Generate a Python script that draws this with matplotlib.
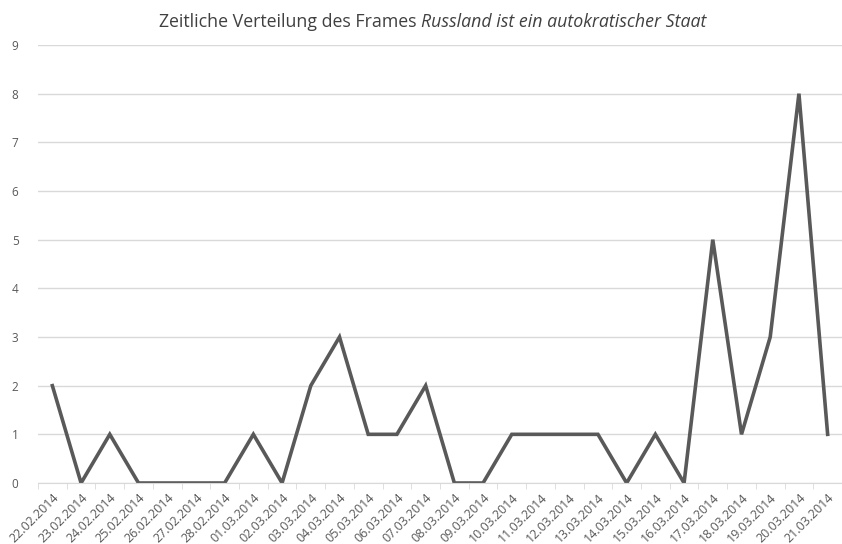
import matplotlib.pyplot as plt
import numpy as np

# Daten
daten = ["22.02.2014", "23.02.2014", "24.02.2014", "25.02.2014", "26.02.2014",
         "27.02.2014", "28.02.2014", "01.03.2014", "02.03.2014", "03.03.2014",
         "04.03.2014", "05.03.2014", "06.03.2014", "07.03.2014", "08.03.2014",
         "09.03.2014", "10.03.2014", "11.03.2014", "12.03.2014", "13.03.2014",
         "14.03.2014", "15.03.2014", "16.03.2014", "17.03.2014", "18.03.2014",
         "19.03.2014", "20.03.2014", "21.03.2014"]
werte = [2, 0, 1, 0, 0, 0, 0, 1, 0, 2, 3, 1, 1, 2, 0, 0, 1, 1, 1, 1, 0, 1, 0, 5, 1, 3, 8, 1]

plt.rcParams['font.family'] = ['Open Sans', 'DejaVu Sans']

fig = plt.figure(figsize=(8.42, 5.44), dpi=100)
ax = fig.add_axes([38 / 842, (544 - 483) / 544, (842 - 38) / 842, (483 - 45) / 544])

x = np.arange(len(daten))
ax.plot(x, werte, color='#595959', linewidth=2.6, solid_joinstyle='miter')

ax.set_xlim(-0.5, len(daten) - 0.5)
ax.set_ylim(0, 9)
ax.set_yticks(range(10))
ax.yaxis.grid(True, color='#d9d9d9', linewidth=1)
ax.set_axisbelow(True)

ax.set_xticks(x)
ax.set_xticklabels(daten, rotation=45, ha='right', rotation_mode='anchor',
                   fontsize=9, color='#595959')
ax.set_xticks(np.arange(-0.5, len(daten), 1), minor=True)
ax.tick_params(axis='x', which='major', length=0, pad=6)
ax.tick_params(axis='x', which='minor', length=4, color='#d9d9d9')
ax.tick_params(axis='y', length=0, labelsize=8.5, labelcolor='#595959', pad=14)

for s in ['top', 'right', 'left']:
    ax.spines[s].set_visible(False)
ax.spines['bottom'].set_color('#d9d9d9')

fig.text(0.5, 0.96, "Zeitliche Verteilung des Frames ", ha='right', va='center',
         fontsize=12.8, color='#404040')
fig.text(0.5, 0.96, "Russland ist ein autokratischer Staat", ha='left', va='center',
         fontsize=12.8, color='#404040', style='italic')

fig.savefig('out.png', dpi=100)
